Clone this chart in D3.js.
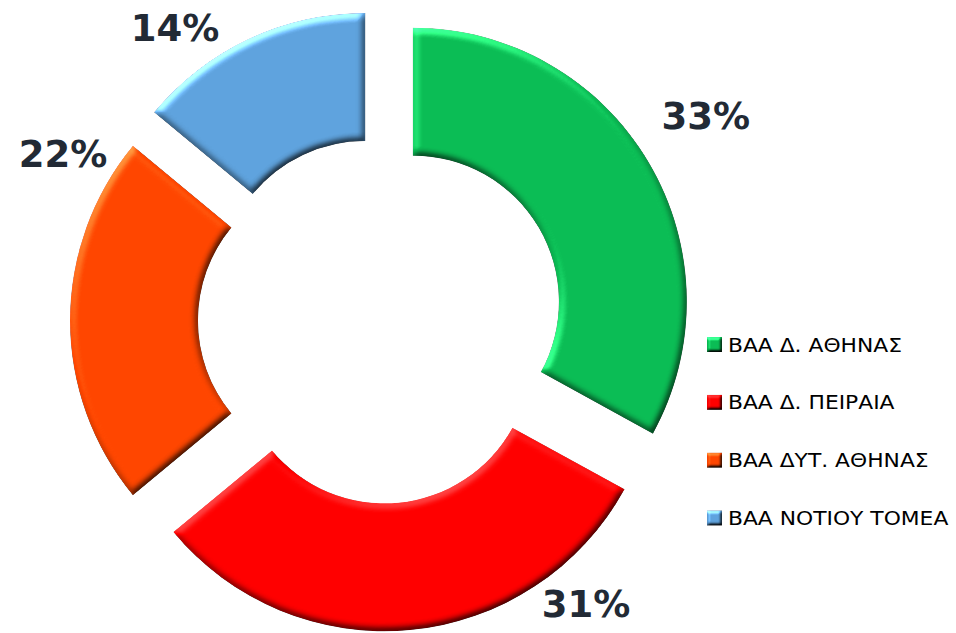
<!DOCTYPE html>
<html><head><meta charset="utf-8">
<script src="https://cdn.jsdelivr.net/npm/d3@7/dist/d3.min.js"></script>
<style>html,body{margin:0;padding:0;background:#fff}</style>
</head><body>
<svg id="chart" width="956" height="633"></svg>
<script>
// ---- data ----
const categories = ["ΒΑΑ Δ. ΑΘΗΝΑΣ", "ΒΑΑ Δ. ΠΕΙΡΑΙΑ", "ΒΑΑ ΔΥΤ. ΑΘΗΝΑΣ", "ΒΑΑ ΝΟΤΙΟΥ ΤΟΜΕΑ"];
const values = [33, 31, 22, 14];
const valueLabels = ["33%", "31%", "22%", "14%"];
const colors = ["#0bbd55", "#ff0000", "#ff4600", "#5fa3de"];

// ---- layout ----
const W = 956, H = 633;
const cx = 381, cy = 320.5;
const rOuter = 274, rInner = 146, explode = 37;
// label placement: fraction of slice angle, distance from slice centre
const labelPlace = [{f: 0.485, r: 347}, {f: 0.196, r: 318}, {f: 0.888, r: 327}, {f: 0.282, r: 322}];

const svg = d3.select("#chart");
const defs = svg.append("defs");

function bevel(id, std, scale, el, hi) {
  const d0 = Math.sin(el * Math.PI / 180);
  const f = defs.append("filter").attr("id", id)
    .attr("x", "-10%").attr("y", "-10%").attr("width", "120%").attr("height", "120%")
    .attr("color-interpolation-filters", "sRGB");
  f.append("feGaussianBlur").attr("in", "SourceAlpha").attr("stdDeviation", std).attr("result", "b");
  f.append("feDiffuseLighting").attr("in", "b").attr("surfaceScale", scale)
    .attr("diffuseConstant", 1).attr("lighting-color", "#fff").attr("result", "d")
    .append("feDistantLight").attr("azimuth", 240).attr("elevation", el);
  f.append("feComposite").attr("in", "SourceGraphic").attr("in2", "d").attr("operator", "arithmetic")
    .attr("k1", 1 / d0).attr("k2", 0).attr("k3", 0).attr("k4", 0).attr("result", "lit");
  f.append("feComposite").attr("in", "d").attr("in2", "d").attr("operator", "arithmetic")
    .attr("k1", 0).attr("k2", 1).attr("k3", 0).attr("k4", -d0).attr("result", "h");
  f.append("feComposite").attr("in", "lit").attr("in2", "h").attr("operator", "arithmetic")
    .attr("k1", 0).attr("k2", 1).attr("k3", hi).attr("k4", 0).attr("result", "o");
  f.append("feComposite").attr("in", "o").attr("in2", "SourceAlpha").attr("operator", "in");
}
bevel("bevel", 3.5, 3.2, 50, 1.1);
bevel("bevelSmall", 1.6, 2.5, 50, 1.0);

const pie = d3.pie().sort(null).value(d => d)(values);
const arc = d3.arc().innerRadius(rInner).outerRadius(rOuter);

const g = svg.append("g").attr("transform", `translate(${cx},${cy})`);

pie.forEach((p, i) => {
  const mid = (p.startAngle + p.endAngle) / 2;
  const dx = explode * Math.sin(mid), dy = -explode * Math.cos(mid);
  const sg = g.append("g").attr("transform", `translate(${dx},${dy})`);
  sg.append("path").attr("d", arc(p)).attr("fill", colors[i]).attr("filter", "url(#bevel)");
  const lp = labelPlace[i];
  const a = p.startAngle + lp.f * (p.endAngle - p.startAngle);
  sg.append("text")
    .attr("x", lp.r * Math.sin(a))
    .attr("y", -lp.r * Math.cos(a) + 13.5)
    .attr("text-anchor", "middle")
    .attr("font-family", "DejaVu Sans")
    .attr("font-weight", "bold")
    .attr("font-size", 37)
    .attr("fill", "#222a35")
    .text(valueLabels[i]);
});

// ---- legend ----
const legendY = d3.scalePoint().domain(categories).range([344.5, 518]);
const lg = svg.append("g");
categories.forEach((c, i) => {
  const y = legendY(c);
  lg.append("rect").attr("x", 707).attr("y", y - 7.5).attr("width", 15).attr("height", 15)
    .attr("fill", colors[i]).attr("filter", "url(#bevelSmall)");
  const t = lg.append("text").attr("x", 728).attr("y", y + 7)
    .attr("font-family", "DejaVu Sans").attr("font-size", 20).attr("fill", "#000")
    .text(c);
  const L = t.node().getComputedTextLength();
  t.attr("textLength", L * 1.09).attr("lengthAdjust", "spacingAndGlyphs");
});
</script>
</body></html>
